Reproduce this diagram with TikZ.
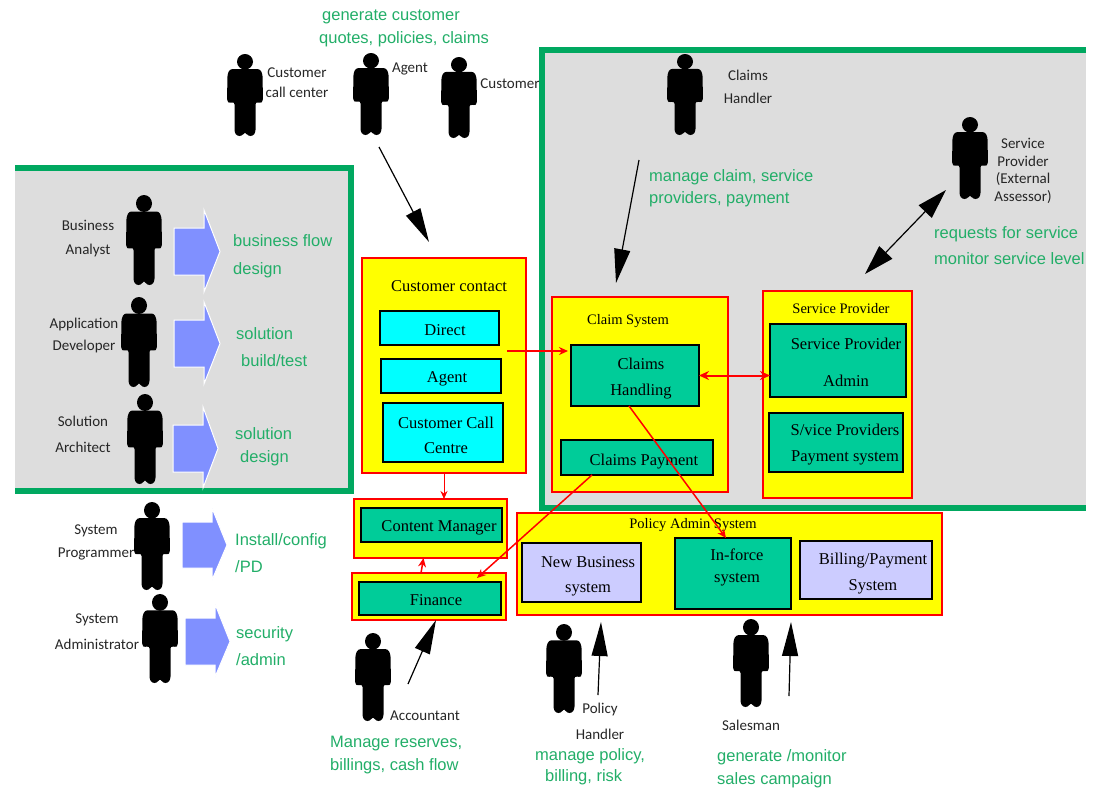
\documentclass[tikz,border=0pt]{standalone}
\usepackage{fontspec}
\setmainfont{Liberation Serif}
\newfontfamily\gfont{Liberation Sans}
\newfontfamily\hfont{Carlito}
\usetikzlibrary{arrows.meta,fit}
\definecolor{panelgreen}{HTML}{00A860}
\definecolor{txtgreen}{HTML}{22AE68}
\definecolor{panelgrey}{HTML}{DDDDDD}
\definecolor{boxgreen}{HTML}{00CC99}
\definecolor{boxlilac}{HTML}{CCCCFF}
\definecolor{bigarrow}{HTML}{8090FF}
\definecolor{sysyellow}{HTML}{FFFF00}
\definecolor{syscyan}{HTML}{00FFFF}
\definecolor{sysred}{HTML}{FF0000}
\tikzset{
  x=1pt,y=-1pt,
  panel/.style={draw=panelgreen,line width=6.5pt,line join=miter},
  sysbox/.style={draw=sysred,fill=sysyellow,line width=1.4pt,inner sep=0,outer sep=0},
  thickbox/.style={sysbox,line width=2.6pt},
  cyanbox/.style={draw=black,fill=syscyan,line width=1.6pt,inner sep=0,outer sep=0},
  tealbox/.style={draw=black,fill=boxgreen,line width=1.6pt,inner sep=0,outer sep=0},
  lilacbox/.style={draw=black,fill=boxlilac,line width=1.6pt,inner sep=0,outer sep=0},
  boxtxt/.style={yshift=-1.5pt,inner sep=0,align=center,font=\fontsize{16.5}{16.5}\selectfont},
  titletxt/.style={yshift=-1.5pt,inner sep=0,align=center,font=\fontsize{14.5}{16}\selectfont},
  greentxt/.style={yshift=-1.5pt,anchor=west,inner sep=0,align=left,text=txtgreen,font=\gfont\fontsize{16.5}{#1}\selectfont},
  whotxt/.style={yshift=-1pt,inner sep=0,align=center,text=black!85,font=\hfont\fontsize{15}{#1}\selectfont},
  whotxt/.default=23,
  flowarrow/.style={fill=bigarrow,draw=white,line width=1pt,line join=miter},
  redline/.style={draw=sysred,line width=1.5pt,-{Stealth[length=9pt,width=8pt]}},
  redthin/.style={draw=sysred,line width=1pt,-{Stealth[length=8pt,width=7pt]}},
  redboth/.style={draw=sysred,line width=2pt,{Stealth[length=10pt,width=9pt]}-{Stealth[length=10pt,width=9pt]}},
  blackline/.style={draw=black,line width=1.2pt,-{Triangle[length=34pt,width=16pt]}},
  blackboth/.style={draw=black,line width=1.2pt,{Triangle[length=30pt,width=18pt]}-{Triangle[length=30pt,width=18pt]}},
  personfig/.pic={
    \begin{scope}[yscale=#1/90]
      \fill[black] (0,8.5) ellipse (8 and 8.5);
      \fill[black,rounded corners=2.5pt]
        (-15,16.5) -- (15,16.5) -- (17.5,22) -- (18,52) -- (15,54) -- (10.5,52.5)
        -- (10.5,86) -- (8,90) -- (3,90) -- (0.5,86) -- (-0.5,86) -- (-3,90) -- (-8,90) -- (-10.5,86)
        -- (-10.5,52.5) -- (-15,54) -- (-18,52) -- (-17.5,22) -- cycle;
    \end{scope}
  }
}
\newcommand{\flow}[7]{% left, neck, tip, bodytop, bodybottom, headtop, headbottom
  \path[flowarrow] (#1,#4) -- (#2,#4) -- (#2,#6) -- (#3,{(#4+#5)/2}) -- (#2,#7) -- (#2,#5) -- (#1,#5) -- cycle;}
\newcommand{\bx}[6]{\node[#6,fit={(#2,#3) (#4,#5)}] (#1) {};}
\begin{document}
\begin{tikzpicture}
\useasboundingbox (0,0) rectangle (1093,788);
% panels
\fill[panelgrey] (15,168) rectangle (351,491);
\fill[panelgrey] (541,50) rectangle (1086,508);
\draw[panel] (15,168) -- (351,168) -- (351,491) -- (15,491);
\draw[panel] (1086,50) -- (542,50) -- (542,508) -- (1086,508);
% people
\pic at (144,195) {personfig=90};
\pic at (139,297) {personfig=90};
\pic at (145,394) {personfig=90};
\pic at (152,502) {personfig=88};
\pic at (160,594) {personfig=89};
\pic at (245,54) {personfig=82};
\pic at (371,53) {personfig=82};
\pic at (459,57) {personfig=81};
\pic at (685,54) {personfig=81};
\pic at (970,117) {personfig=82};
\pic at (373,633) {personfig=88};
\pic at (564,624) {personfig=89};
\pic at (751,619) {personfig=88};
% big arrows
\flow{174}{204}{220}{228}{275}{210}{292}
\flow{174}{204}{220}{320}{367}{302}{384}
\flow{173}{203}{218}{425}{472}{407}{488}
\flow{182}{212}{227}{522}{568}{508}{580}
\flow{185}{215}{230}{618}{665}{604}{677}
% system boxes
\bx{contact}{362}{258}{526}{473}{sysbox}
\bx{direct}{380}{311}{499}{345}{cyanbox}
\bx{agentbox}{381}{359}{501}{393}{cyanbox}
\bx{callbox}{383}{403}{503}{462}{cyanbox}
\bx{cmy}{354}{499}{507}{558}{sysbox}
\bx{cm}{361}{508}{502}{542}{tealbox}
\bx{finy}{352}{573}{506}{620}{thickbox}
\bx{fin}{359}{582}{501}{615}{tealbox}
\bx{claimsys}{552}{297}{728}{492}{sysbox}
\bx{ch}{571}{345}{699}{406}{tealbox}
\bx{cp}{561}{440}{713}{475}{tealbox}
\bx{spsys}{763}{291}{912}{498}{thickbox}
\bx{spa}{770}{324}{906}{397}{tealbox}
\bx{spp}{769}{413}{903}{472}{tealbox}
\bx{polsys}{517}{513}{942}{615}{sysbox}
\bx{newb}{522}{543}{641}{602}{lilacbox}
\bx{inforce}{675}{538}{791}{609}{tealbox}
\bx{billing}{800}{541}{932}{599}{lilacbox}
% box texts
\node[boxtxt] (t1) at (449,285) {Customer contact};
\node[boxtxt] (t2) at (445,329) {Direct};
\node[boxtxt] (t3) at (447,377) {Agent};
\node[boxtxt] (t4) at (446,434) {Customer Call\\[9pt]Centre};
\node[boxtxt] (t5) at (439,526) {Content Manager};
\node[boxtxt] (t6) at (436,599) {Finance};
\node[titletxt] (t7) at (628,320) {Claim System};
\node[boxtxt] (t8) at (641,377) {Claims\\[9pt]Handling};
\node[boxtxt] (t9) at (644,460) {Claims Payment};
\node[titletxt] (t10) at (841,307) {Service Provider};
\node[boxtxt] (t11) at (846,361) {Service Provider\\[21pt]Admin};
\node[boxtxt] (t12) at (845,443) {S/vice Providers\\[10pt]Payment system};
\node[titletxt] (t13) at (693,524) {Policy Admin System};
\node[boxtxt] (t14) at (588,575) {New Business\\[9pt]system};
\node[boxtxt] (t15) at (737,566) {In-force\\[5pt]system};
\node[boxtxt] (t16) at (873,572) {Billing/Payment\\[10pt]System};
% green texts
\node[greentxt=23] (g1) at (319,27) {\hspace*{3pt}generate customer\\quotes, policies, claims};
\node[greentxt=28] (g2) at (233,255) {business flow\\design};
\node[greentxt=27] (g3) at (236,346) {solution\\\hspace*{5pt}build/test};
\node[greentxt=23] (g4) at (235,445) {solution\\\hspace*{5pt}design};
\node[greentxt=27] (g5) at (235,552) {Install/config\\/PD};
\node[greentxt=27] (g6) at (236,645) {security\\/admin};
\node[greentxt=23] (g7) at (330,754) {Manage reserves,\\billings, cash flow};
\node[greentxt=21] (g8) at (535,765) {manage policy,\\\hspace*{10pt}billing, risk};
\node[greentxt=23] (g9) at (717,767) {generate /monitor\\sales campaign};
\node[greentxt=22] (g10) at (649,187) {manage claim, service\\providers, payment};
\node[greentxt=26] (g11) at (934,244) {requests for service\\monitor service level};
% person labels
\node[whotxt=20] (p1) at (297,82) {Customer\\call center};
\node[whotxt] (p2) at (410,68) {Agent};
\node[whotxt] (p3) at (510,83) {Customer};
\node[whotxt] (p4) at (748,86) {Claims\\Handler};
\node[whotxt=17.7] (p5) at (1023,170) {Service\\Provider\\(External\\Assessor)};
\node[whotxt=24] (p6) at (88,238) {Business\\Analyst};
\node[whotxt=22] (p7) at (84,334) {Application\\Developer};
\node[whotxt=26] (p8) at (83,433) {Solution\\Architect};
\node[whotxt=23] (p9) at (96,541) {System\\Programmer};
\node[whotxt=26] (p10) at (97,631) {System\\Administrator};
\node[whotxt] (p11) at (425,715) {Accountant};
\node[whotxt=26] (p12) at (600,720) {Policy\\Handler};
\node[whotxt] (p13) at (751,724) {Salesman};
% free ends of the black arrows
\coordinate (agentfoot) at (379,147);
\coordinate (contacttop) at (429,242);
\coordinate (handlerfoot) at (639,160);
\coordinate (claimtop) at (616,283);
\coordinate (provfoot) at (946,190);
\coordinate (sptop) at (865,274);
\coordinate (acctend) at (408,684);
\coordinate (polend) at (598,695);
\coordinate (polup) at (601,622);
\coordinate (salesend) at (789,696);
\coordinate (salesup) at (791,622);
% black arrows
\draw[blackline] (agentfoot) -- (contacttop);
\draw[blackline] (handlerfoot) -- (claimtop);
\draw[blackboth] (provfoot) -- (sptop);
\draw[blackline] (acctend) -- ([xshift=7pt]finy.south);
\draw[blackline] (polend) -- (polup);
\draw[blackline] (salesend) -- (salesup);
% red arrows
\draw[redline] ([xshift=8pt,yshift=-6pt]direct.south east) -- ([xshift=-3pt]ch.west |- {0,351});
\draw[redboth] (ch.east) -- (ch.east -| spa.west);
\draw[redline] ([xshift=-6pt]ch.south) -- ([xshift=-7pt]inforce.north);
\draw[redline] ([xshift=-45pt]cp.south) -- ([xshift=48pt,yshift=-5pt]finy.north);
\draw[redthin] (contact.south) -- (contact.south |- cmy.north);
\draw[redline] ([xshift=-8pt]finy.north) -- ([xshift=-7pt]cmy.south);
\end{tikzpicture}
\end{document}
